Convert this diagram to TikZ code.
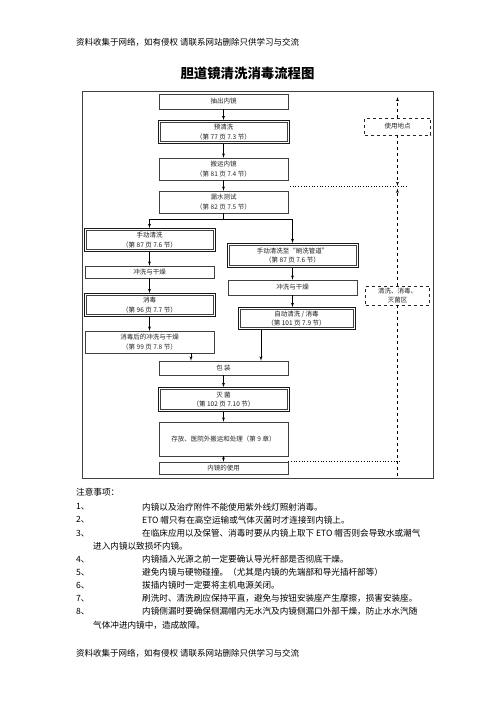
\documentclass[tikz,border=0pt]{standalone}
\usepackage{fontspec}
\setmainfont{Noto Sans CJK SC}
\usetikzlibrary{positioning, arrows}

\begin{document}
\begin{tikzpicture}
[
    x=1pt, y=-1pt, auto,
    % Nodes are placed at the pixel positions of the sheet (y grows downwards)
    >=latex'
]

%================================ Flow chart ================================
\tikzstyle{box}     = [draw, black!75, line width=0.5pt, text=black!85, align=center,
                       inner sep=0pt, font=\fontsize{6.5}{9.5}\selectfont, minimum width=129pt]
\tikzstyle{dbox}    = [box, black!90, line width=0.7pt, minimum width=131pt,
    path picture={
        % inner line of the double frame
        \draw[line width=0.45pt, black!75]
            ([shift={(1.8pt,-1.8pt)}]path picture bounding box.north west) rectangle
            ([shift={(-1.8pt,1.8pt)}]path picture bounding box.south east);
    }]
\tikzstyle{dashbox} = [box, dashed, line width=0.6pt, black!85]
\tikzstyle{arr}     = [->, black, line width=0.5pt]
\tikzstyle{note}    = [anchor=west, inner sep=0pt, font=\fontsize{8.6}{10}\selectfont]

\useasboundingbox (0,0) rectangle (496,702);

% Header and title
\node[note, font=\fontsize{8.5}{10}\selectfont] (head) at (76,42)
    {资料收集于网络，如有侵权 请联系网站删除只供学习与交流};
\node[font=\fontsize{13.4}{16}\selectfont\bfseries] (title) at (247.5,73)
    {胆道镜清洗消毒流程图};

% Frame
\draw[line width=0.5pt, black!75] (82,91) rectangle (433,478);

% Main column
\node[box,  minimum height=15pt] (out)   at (223.5,101.5) {抽出内镜};
\node[dbox, minimum height=23pt] (pre)   at (223.5,132)   {预清洗\\（第 77 页 7.3 节）};
\node[box,  minimum height=22pt] (carry) at (223.5,169)   {搬运内镜\\（第 81 页 7.4 节）};
\node[box,  minimum height=22pt] (leak)  at (223.5,202)   {漏水测试\\（第 82 页 7.5 节）};

% Left branch
\node[dbox, minimum height=23pt] (man)    at (149.5,240) {手动清洗\\（第 87 页 7.6 节）};
\node[box,  minimum height=12pt] (rinseL) at (149.5,272) {冲洗与干燥};
\node[dbox, minimum height=23pt] (disL)   at (149.5,305) {消毒\\（第 96 页 7.7 节）};
\node[box,  minimum height=22pt] (after)  at (149.5,342) {消毒后的冲洗与干燥\\（第 99 页 7.8 节）};

% Right branch
\node[dbox, minimum height=24pt] (manR)   at (292.5,255.5) {手动清洗至“刷洗管道”\\（第 87 页 7.6 节）};
\node[box,  minimum height=15pt] (rinseR) at (292.5,287.5) {冲洗与干燥};
\node[dbox, minimum height=22pt, minimum width=117pt] (auto) at (296.5,318.5)
    {自动清洗 / 消毒\\（第 101 页 7.9 节）};

% Common end
\node[box,  minimum height=14pt] (pack)  at (223.5,368)   {包 装};
\node[dbox, minimum height=24pt] (ster)  at (223.5,399.5) {灭 菌\\（第 102 页 7.10 节）};
\node[box,  minimum height=34pt] (store) at (223.5,439)   {存放、医院外搬运和处理（第 9 章）};
\node[box,  minimum height=12pt] (use)   at (223.5,468)   {内镜的使用};

% Areas
\node[dashbox, minimum width=66pt, minimum height=17pt] (site) at (397.5,126.5) {使用地点};
\node[dashbox, minimum width=64pt, minimum height=19pt] (zone) at (397.5,295.5) {清洗、消毒、\\灭菌区};

% Main connections
\draw[arr] (out) -- (pre);
\draw[arr] (pre) -- (carry);
\draw[arr] (carry) -- (leak);
\coordinate (split) at (223.5,219);
\draw[line width=0.5pt] (leak) -- (split);
\draw[arr] (split) -| (man);
\draw[arr] (split) -| (manR);
\draw[arr] (man) -- (rinseL);
\draw[arr] (rinseL) -- (disL);
\draw[arr] (disL) -- (after);
\draw[arr] (manR) -- (rinseR);
\draw[arr] (rinseR.south) -- (rinseR.south |- auto.north);
\draw[arr] (191,0 |- after.south) -- (191,0 |- pack.north);
\draw[arr] (261,0 |- auto.south) -- (261,0 |- pack.north);
\draw[arr] (pack) -- (ster);
\draw[arr] (ster) -- (store);
\draw[arr] (store) -- (use);

% Area borders
\coordinate (site-top) at (397.5,97);
\coordinate (lo-left)  at (290,186);
\coordinate (lo-right) at (407,186);
\coordinate (lo-mark)  at (397.5,188.5);
\draw[dotted, line width=0.7pt] (lo-left) -- (lo-right);
\draw[arr, dashed] (site) -- (site-top);
\draw[arr, dashed] (site) -- (site |- lo-left);
\draw[arr, dashed] (zone) -- (lo-mark);
\draw[dashed, line width=0.6pt] (zone.south) -- (zone.south |- 0,477);
\draw[dotted, line width=0.7pt] (use.north east) -- (400,0 |- use.north);

% Notes
\node[note] (notes) at (76,492) {注意事项：};
\foreach \n/\y/\t in {1/507/{内镜以及治疗附件不能使用紫外线灯照射消毒。},
                      2/520.1/{ETO 帽只有在高空运输或气体灭菌时才连接到内镜上。},
                      3/533.2/{在临床应用以及保管、消毒时要从内镜上取下 ETO 帽否则会导致水或潮气},
                      4/559.4/{内镜插入光源之前一定要确认导光杆部是否彻底干燥。},
                      5/572.5/{避免内镜与硬物碰撞。（尤其是内镜的先端部和导光插杆部等）},
                      6/585.6/{拔插内镜时一定要将主机电源关闭。},
                      7/598.7/{刷洗时、清洗刷应保持平直，避免与按钮安装座产生摩擦，损害安装座。},
                      8/611.8/{内镜侧漏时要确保侧漏帽内无水汽及内镜侧漏口外部干燥，防止水水汽随}}
{
    \node[note] (num-\n) at (76,\y) {\n、};
    \node[note] (item-\n) at (142,\y) {\t};
}
\node[note] (item-3b) at (93,546.3) {进入内镜以致损坏内镜。};
\node[note] (item-8b) at (93,624.9) {气体冲进内镜中，造成故障。};

% Footer
\node[note, font=\fontsize{8.5}{10}\selectfont] (foot) at (76,653)
    {资料收集于网络，如有侵权 请联系网站删除只供学习与交流};
%================================== Done ==================================

\end{tikzpicture}
\end{document}
